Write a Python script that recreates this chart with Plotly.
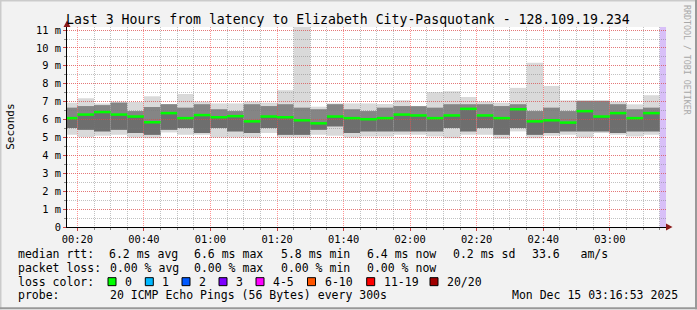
import plotly.graph_objects as go

# ---------------- data ----------------
day = "2025-12-15"
now_time = "03:16:53"
window_start = "00:16:53"

bar_end = ["00:20", "00:25", "00:30", "00:35", "00:40", "00:45", "00:50", "00:55",
           "01:00", "01:05", "01:10", "01:15", "01:20", "01:25", "01:30", "01:35",
           "01:40", "01:45", "01:50", "01:55", "02:00", "02:05", "02:10", "02:15",
           "02:20", "02:25", "02:30", "02:35", "02:40", "02:45", "02:50", "02:55",
           "03:00", "03:05", "03:10", "03:15"]
bar_start = ["00:15", "00:20", "00:25", "00:30", "00:35", "00:40", "00:45", "00:50",
             "00:55", "01:00", "01:05", "01:10", "01:15", "01:20", "01:25", "01:30",
             "01:35", "01:40", "01:45", "01:50", "01:55", "02:00", "02:05", "02:10",
             "02:15", "02:20", "02:25", "02:30", "02:35", "02:40", "02:45", "02:50",
             "02:55", "03:00", "03:05", "03:10"]

# median rtt (ms)
median_ms = [6.08, 6.28, 6.42, 6.28, 6.17, 5.85, 6.36, 6.08, 6.25, 6.13, 6.19, 5.90,
             6.17, 6.13, 5.96, 5.79, 6.17, 6.08, 6.02, 6.08, 6.28, 6.23, 6.08, 6.23,
             6.60, 6.23, 6.08, 6.58, 5.90, 5.96, 5.83, 6.47, 6.17, 6.36, 6.08, 6.36]
# smoke: lowest ping, lower inner, upper inner, highest ping (ms)
smoke_lo = [5.15, 5.02, 5.10, 5.15, 5.00, 4.96, 5.28, 5.15, 5.15, 5.00, 5.00, 5.00,
            5.25, 5.00, 5.00, 5.15, 5.10, 5.00, 5.06, 5.06, 5.15, 5.15, 5.06, 4.96,
            5.15, 5.15, 4.92, 5.34, 4.96, 5.10, 5.15, 5.00, 5.25, 5.15, 5.06, 5.15]
smoke_q1 = [5.53, 5.43, 5.34, 5.43, 5.25, 5.15, 5.43, 5.53, 5.25, 5.53, 5.34, 5.25,
            5.53, 5.15, 5.15, 5.43, 5.62, 5.25, 5.34, 5.34, 5.34, 5.34, 5.34, 5.53,
            5.34, 5.53, 5.15, 5.53, 5.15, 5.25, 5.34, 5.34, 5.34, 5.25, 5.34, 5.34]
smoke_q3 = [6.66, 6.75, 6.80, 6.94, 6.47, 6.70, 6.85, 6.66, 6.85, 6.57, 6.47, 6.85,
            6.75, 6.85, 6.66, 6.57, 6.85, 6.57, 6.47, 6.66, 6.75, 6.74, 6.66, 6.85,
            6.85, 6.85, 6.75, 6.85, 6.47, 6.66, 6.47, 7.04, 7.04, 6.85, 6.57, 6.66]
smoke_hi = [6.94, 7.19, 6.90, 7.00, 6.98, 7.30, 6.87, 7.43, 7.00, 6.90, 6.90, 7.00,
            6.94, 7.64, 11.18, 6.72, 6.90, 6.90, 6.90, 6.87, 7.08, 6.76, 7.53, 7.58,
            7.26, 7.00, 6.94, 7.77, 9.18, 7.88, 7.07, 7.08, 7.08, 7.00, 6.85, 7.36]

y_tick_vals = [0, 1, 2, 3, 4, 5, 6, 7, 8, 9, 10, 11]
y_tick_text = ["0", "1 m", "2 m", "3 m", "4 m", "5 m", "6 m", "7 m", "8 m", "9 m", "10 m", "11 m"]

title = "Last 3 Hours from latency to Elizabeth City-Pasquotank - 128.109.19.234"
rtt_stats = ["6.2 ms avg", "6.6 ms max", "5.8 ms min", "6.4 ms now", "0.2 ms sd", "33.6   am/s"]
loss_stats = ["0.00 % avg", "0.00 % max", "0.00 % min", "0.00 % now"]
loss_labels = ["0", "1", "2", "3", "4-5", "6-10", "11-19", "20/20"]
loss_colors = ["#00ff00", "#00b8ff", "#0059ff", "#7e00ff", "#ff00ff", "#ff5500", "#ff0000", "#a10000"]
probe_text = "20 ICMP Echo Pings (56 Bytes) every 300s"
stamp_text = "Mon Dec 15 03:16:53 2025"

# ---------------- layout geometry (pixels) ----------------
W, H = 697, 310
PL, PR, PT, PB = 67, 666, 27, 227.5
FONT = "DejaVu Sans Mono"


def px(x):
    return (x - PL) / (PR - PL)


def py(y):
    return (PB - y) / (PB - PT)


def ts(t):
    if t.count(":") == 1:
        t = t + ":00"
    return f"{day} {t}"


fig = go.Figure()
shapes = []


def band(x0, x1, y0, y1, color):
    shapes.append(dict(type="rect", xref="x", yref="y", layer="below", x0=x0, x1=x1,
                       y0=y0, y1=y1, fillcolor=color, line_width=0))


# smoke
for s, e, lo, q1, q3, hi, m in zip(bar_start, bar_end, smoke_lo, smoke_q1, smoke_q3,
                                   smoke_hi, median_ms):
    x0 = max(ts(s), ts(window_start))
    band(x0, ts(e), lo, hi, "#d9d9d9")
    band(x0, ts(e), q1, q3, "#a3a3a3")
    band(x0, ts(e), q1, m, "#6e6e6e")
    band(x0, ts(e), m, q3, "#858585")

# unknown/no-data strip at the right
shapes.append(dict(type="rect", xref="x", yref="paper", layer="below",
                   x0=ts(bar_end[-1]), x1=ts(now_time), y0=0, y1=1,
                   fillcolor="#d8c0f8", line_width=0))

# median segments
mx, my = [], []
for s, e, m in zip(bar_start, bar_end, median_ms):
    mx += [max(ts(s), ts(window_start)), ts(e), None]
    my += [m, m, None]
fig.add_trace(go.Scatter(x=mx, y=my, mode="lines", line=dict(color="#00ff00", width=2.5),
                         hoverinfo="skip", showlegend=False))

# axis arrows (decoration)
shapes.append(dict(type="path", xref="paper", yref="paper", layer="above",
                   path=f"M {px(63.5)} {py(27)} L {px(70.5)} {py(27)} L {px(67)} {py(20.5)} Z",
                   fillcolor="#8b1a1a", line_width=0))
shapes.append(dict(type="path", xref="paper", yref="paper", layer="above",
                   path=f"M {px(666)} {py(224)} L {px(666)} {py(231)} L {px(672.5)} {py(227.5)} Z",
                   fillcolor="#8b1a1a", line_width=0))

# frame shading
shapes.append(dict(type="line", xref="paper", yref="paper", x0=px(0.5), x1=px(0.5), y0=py(0), y1=py(310),
                   line=dict(color="#cbcbcb", width=2)))
shapes.append(dict(type="line", xref="paper", yref="paper", x0=px(0), x1=px(697), y0=py(0.5), y1=py(0.5),
                   line=dict(color="#cbcbcb", width=2)))
shapes.append(dict(type="line", xref="paper", yref="paper", x0=px(696), x1=px(696), y0=py(0), y1=py(310),
                   line=dict(color="#999999", width=2)))
shapes.append(dict(type="line", xref="paper", yref="paper", x0=px(0), x1=px(697), y0=py(309), y1=py(309),
                   line=dict(color="#999999", width=2)))

annotations = []


def text(x, y, s, size=11.5, anchor="left", color="#000000", angle=0):
    annotations.append(dict(xref="paper", yref="paper", x=px(x), y=py(y), text=s, showarrow=False,
                            xanchor=anchor, yanchor="middle", textangle=angle,
                            font=dict(family=FONT, size=size, color=color)))


text(348, 19, title, size=13.2, anchor="center")
text(11, 127, "Seconds", size=11, anchor="center", angle=-90)
text(687, 60, "RRDTOOL / TOBI OETIKER", size=8.3, anchor="center", color="#a8a8a8", angle=90)

row_y = [254.3, 268.3, 282.3, 296.0]
text(16, row_y[0], "median rtt:")
for xx, s in zip([106.7, 192.4, 279, 365, 451, 530], rtt_stats):
    text(xx, row_y[0], s)
text(16, row_y[1], "packet loss:")
for xx, s in zip([107.6, 192.4, 279, 365], loss_stats):
    text(xx, row_y[1], s)
text(16, row_y[2], "loss color:")
for xx, lab, col in zip([108, 145.3, 182, 219, 256, 307.5, 366.7, 430], loss_labels, loss_colors):
    shapes.append(dict(type="rect", xref="paper", yref="paper", x0=px(xx), x1=px(xx + 8),
                       y0=py(278.3), y1=py(286.3), fillcolor=col, line=dict(color="#000000", width=1)))
    text(xx + 15, row_y[2], lab)
text(16, row_y[3], "probe:")
text(107.6, row_y[3], probe_text)
text(680, row_y[3], stamp_text, anchor="right")

major_grid = "rgba(255,60,60,0.55)"
minor_grid = "rgba(120,120,120,0.45)"

fig.update_layout(
    width=W, height=H,
    margin=dict(l=PL, r=W - PR, t=PT, b=H - PB, pad=0),
    paper_bgcolor="#f2f2f2", plot_bgcolor="#ffffff",
    showlegend=False,
    shapes=shapes, annotations=annotations,
    font=dict(family=FONT, color="#000000"),
    xaxis=dict(
        type="date", range=[ts(window_start), ts(now_time)],
        tick0=f"{day} 00:00:00", dtick=20 * 60 * 1000, tickformat="%H:%M",
        showgrid=True, gridcolor=major_grid, griddash="1px,1px", gridwidth=1,
        minor=dict(dtick=5 * 60 * 1000, tick0=f"{day} 00:00:00", showgrid=True,
                   gridcolor=minor_grid, griddash="1px,1px", gridwidth=1,
                   ticks="outside", ticklen=2, tickcolor="#888888"),
        ticks="outside", ticklen=3, tickcolor="#cc4444",
        showline=True, linecolor="#000000", linewidth=1,
        zeroline=False, tickfont=dict(family=FONT, size=10.4, color="#000000"),
        fixedrange=True,
    ),
    yaxis=dict(
        range=[0, 11.17], tickmode="array", tickvals=y_tick_vals, ticktext=y_tick_text,
        showgrid=True, gridcolor=major_grid, griddash="1px,1px", gridwidth=1,
        minor=dict(dtick=0.5, tick0=0, showgrid=True, gridcolor=minor_grid,
                   griddash="1px,1px", gridwidth=1, ticks="outside", ticklen=2, tickcolor="#888888"),
        ticks="outside", ticklen=3, tickcolor="#cc4444",
        showline=True, linecolor="#000000", linewidth=1,
        zeroline=False, tickfont=dict(family=FONT, size=10.4, color="#000000"),
        fixedrange=True,
    ),
)

fig.write_html("out.html")
